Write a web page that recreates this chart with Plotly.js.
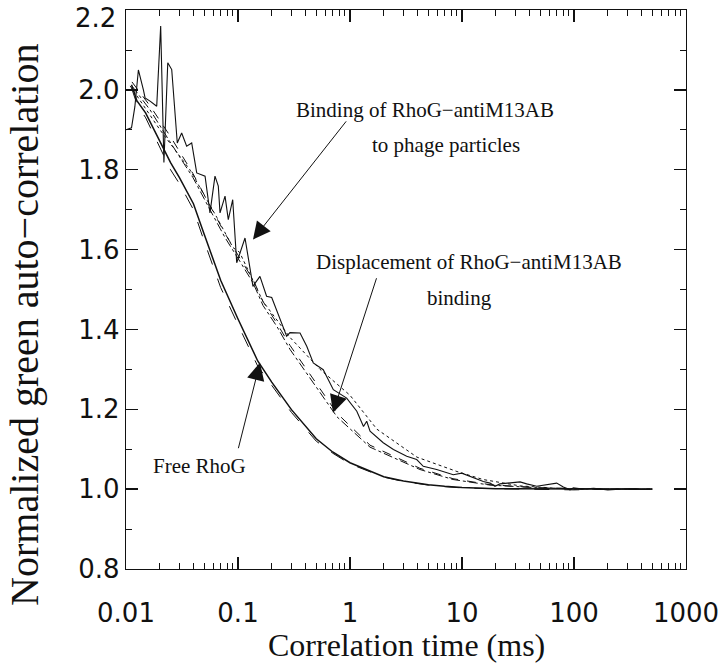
<!DOCTYPE html>
<html>
<head>
<meta charset="utf-8">
<script src="https://cdn.plot.ly/plotly-3.0.1.min.js"></script>
<style>html,body{margin:0;padding:0;background:#fff;}#chart{width:720px;height:670px;}</style>
</head>
<body>
<div id="chart"></div>
<script>
// Binding of RhoG-antiM13AB to phage particles: measured (noisy solid)
const bindX = [0.0100,0.0112,0.0120,0.0129,0.0143,0.0148,0.0164,0.0188,0.0204,0.0218,
  0.0236,0.0256,0.0287,0.0314,0.0348,0.0386,0.0428,0.0508,0.0562,0.0623,
  0.0667,0.0691,0.0766,0.0819,0.0897,0.0974,0.1155,0.136,0.157,0.180,
  0.200,0.272,0.291,0.358,0.411,0.470,0.577,0.710,0.934,1.15,
  1.32,1.41,1.51,1.98,2.44,3.21,3.94,4.51,5.94,8.36,
  9.94,11.8,15.5,17.8,19.7,21.8,33.0,37.8,46.5,70.0,
  80.3,92.1,98.6,120,150,200,250,300,400,500];
const bindY = [1.900,1.905,1.958,2.050,2.000,1.980,1.972,1.959,2.160,1.818,
  2.068,2.051,1.867,1.892,1.859,1.867,1.792,1.784,1.692,1.784,
  1.759,1.692,1.734,1.675,1.725,1.567,1.629,1.508,1.533,1.483,
  1.480,1.383,1.392,1.391,1.358,1.316,1.299,1.249,1.228,1.195,
  1.157,1.170,1.145,1.116,1.099,1.082,1.074,1.057,1.049,1.036,
  1.040,1.032,1.019,1.015,1.007,1.013,1.018,1.013,1.007,1.015,
  1.005,0.998,1.003,1.000,1.002,0.998,1.000,1.001,0.999,1.000];

// Binding fit (dotted)
const bindFitX = [0.0109,0.0201,0.0372,0.0649,0.0902,0.1034,0.1672,0.2912,0.54,1.0,1.74,3.96,9.02,15.4,33.0,92.1,500];
const bindFitY = [2.010,1.900,1.800,1.680,1.605,1.593,1.470,1.380,1.300,1.235,1.150,1.080,1.044,1.024,1.008,1.000,1.000];

// Displacement of RhoG-antiM13AB binding: measured (dash-dot) and fit (dashed)
const dispX = [0.0113,0.0164,0.0247,0.0397,0.0562,0.0766,0.1042,0.1361,0.1672,0.2229,0.2912,0.5741,0.7655,1.509,4.217,8.31,17.78,49.7,170.7,477];
const dispY = [2.010,1.950,1.870,1.780,1.700,1.630,1.570,1.517,1.460,1.407,1.350,1.232,1.181,1.105,1.049,1.024,1.010,1.003,1.000,1.000];
const dispFitY = [2.020,1.960,1.885,1.790,1.710,1.640,1.578,1.525,1.470,1.415,1.360,1.240,1.190,1.110,1.052,1.026,1.011,1.003,1.000,1.000];

// Free RhoG: fit (smooth solid) and measured (long dash)
const freeX = [0.0112,0.0125,0.015,0.02,0.025,0.03,0.04,0.05,0.07,0.1,0.15,0.2,0.3,0.5,0.7,1,1.5,2,3,5,7,10,20,50,100,200,500];
const freeFitY = [2.013,1.973,1.942,1.870,1.818,1.780,1.715,1.638,1.523,1.426,1.321,1.268,1.199,1.126,1.093,1.066,1.045,1.031,1.020,1.011,1.007,1.004,1.001,1.000,1.000,1.000,1.000];
const freeDataY = [2.005,1.965,1.930,1.855,1.800,1.765,1.700,1.620,1.505,1.412,1.308,1.260,1.192,1.120,1.090,1.063,1.043,1.030,1.019,1.010,1.006,1.003,1.001,1.000,0.998,1.000,1.000];

const xTickVals = [0.01,0.1,1,10,100,1000];
const xTickText = ['0.01','0.1','1','10','100','1000'];
const yTickVals = [0.8,1.0,1.2,1.4,1.6,1.8,2.0,2.2];
// top label (2.2) is drawn as an annotation just below its tick, as in the original
const yTickText = ['0.8','1.0','1.2','1.4','1.6','1.8','2.0',''];
const yTopLabel = '2.2';

const minorX = [];
for (const d of [0.01,0.1,1,10,100]) for (let k=2;k<=9;k++) minorX.push(d*k);

const black = '#111';
const traces = [
  {x: freeX, y: freeFitY, mode:'lines', line:{color:black, width:1.5}},
  {x: freeX, y: freeDataY, mode:'lines', line:{color:black, width:1, dash:'longdash'}},
  {x: dispX, y: dispY, mode:'lines', line:{color:black, width:1, dash:'dashdot'}},
  {x: dispX, y: dispFitY, mode:'lines', line:{color:black, width:1, dash:'dash'}},
  {x: bindFitX, y: bindFitY, mode:'lines', line:{color:black, width:1, dash:'dot'}},
  {x: bindX, y: bindY, mode:'lines', line:{color:black, width:1.1}}
];

const serif = 'Liberation Serif, Times New Roman, serif';
const sans = 'DejaVu Sans, Liberation Sans, Arial, sans-serif';
const lg = Math.log10;
const annFont = {family:serif, size:21, color:black};

const layout = {
  width:720, height:670,
  margin:{l:126, r:34, t:10, b:101},
  paper_bgcolor:'#fff', plot_bgcolor:'#fff',
  showlegend:false,
  font:{family:sans, color:black},
  xaxis:{
    type:'log', range:[-2,3], autorange:false,
    tickmode:'array', tickvals:xTickVals, ticktext:xTickText,
    ticks:'inside', ticklen:12, tickwidth:1.2, tickcolor:black,
    minor:{tickmode:'array', tickvals:minorX, ticks:'inside', ticklen:6, tickwidth:1, tickcolor:black},
    showline:true, linecolor:black, linewidth:1.2, mirror:'ticks',
    showgrid:false, zeroline:false,
    tickfont:{family:sans, size:26, color:black},
    ticklabelstandoff:21, ticklabeloverflow:'allow',
    automargin:false
  },
  yaxis:{
    range:[0.7998,2.2002], autorange:false,
    tickmode:'array', tickvals:yTickVals, ticktext:yTickText,
    ticks:'inside', ticklen:12, tickwidth:1.2, tickcolor:black,
    minor:{dtick:0.1, ticks:'inside', ticklen:6, tickwidth:1, tickcolor:black},
    showline:true, linecolor:black, linewidth:1.2, mirror:'ticks',
    showgrid:false, zeroline:false,
    tickfont:{family:sans, size:26, color:black},
    ticklabelstandoff:0, ticklabeloverflow:'allow',
    automargin:false
  },
  annotations:[
    {xref:'paper', yref:'paper', x:-0.015, y:0.9857, xanchor:'right', yanchor:'middle', text:yTopLabel, showarrow:false, font:{family:sans, size:26, color:black}},
    {xref:'paper', yref:'paper', x:0.5, y:-0.1355, xanchor:'center', yanchor:'middle', text:'Correlation time (ms)', showarrow:false, font:{family:serif, size:32, color:black}},
    {xref:'paper', yref:'paper', x:-0.181, y:0.436, xanchor:'center', yanchor:'middle', textangle:-90, text:'Normalized green auto\u2212correlation', showarrow:false, font:{family:serif, size:40, color:black}},
    {xref:'paper', yref:'paper', x:0.534, y:0.821, xanchor:'center', yanchor:'middle', text:'Binding of RhoG\u2212antiM13AB', showarrow:false, font:annFont},
    {xref:'paper', yref:'paper', x:0.571, y:0.759, xanchor:'center', yanchor:'middle', text:'to phage particles', showarrow:false, font:annFont},
    {xref:'paper', yref:'paper', x:0.6125, y:0.549, xanchor:'center', yanchor:'middle', text:'Displacement of RhoG\u2212antiM13AB', showarrow:false, font:annFont},
    {xref:'paper', yref:'paper', x:0.596, y:0.485, xanchor:'center', yanchor:'middle', text:'binding', showarrow:false, font:annFont},
    {xref:'paper', yref:'paper', x:0.131, y:0.1845, xanchor:'center', yanchor:'middle', text:'Free RhoG', showarrow:false, font:annFont},
    {x:lg(0.1361), y:1.625, ax:lg(0.947), ay:1.925, axref:'x', ayref:'y', xref:'x', yref:'y', text:'', showarrow:true, arrowhead:2, arrowsize:3.5, arrowwidth:1, arrowcolor:black, standoff:0, startstandoff:0},
    {x:lg(0.705), y:1.1915, ax:lg(1.742), ay:1.532, axref:'x', ayref:'y', xref:'x', yref:'y', text:'', showarrow:true, arrowhead:2, arrowsize:3.5, arrowwidth:1, arrowcolor:black, standoff:0, startstandoff:0},
    {x:lg(0.1572), y:1.3168, ax:lg(0.1), ay:1.0987, axref:'x', ayref:'y', xref:'x', yref:'y', text:'', showarrow:true, arrowhead:2, arrowsize:3.5, arrowwidth:1, arrowcolor:black, standoff:0, startstandoff:0}
  ]
};

Plotly.newPlot('chart', traces, layout, {displayModeBar:false, staticPlot:true});
</script>
</body>
</html>
